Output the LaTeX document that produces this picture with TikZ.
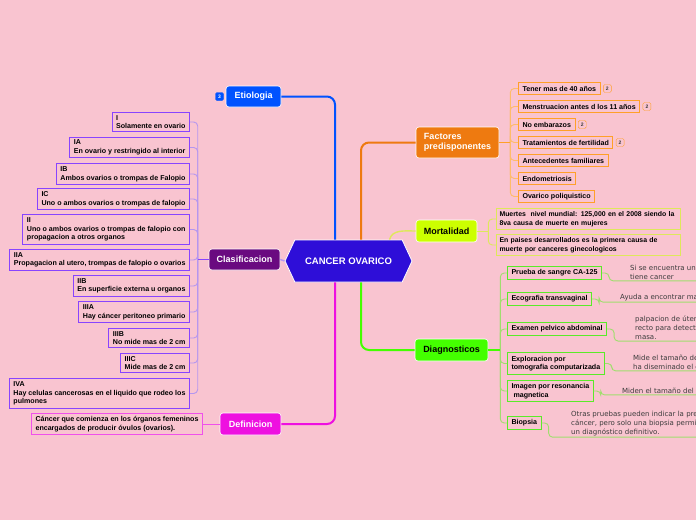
\documentclass[tikz,border=0pt]{standalone}
\usepackage{fontspec}
\setmainfont{Liberation Sans}
\newfontfamily\notefont{DejaVu Sans}
\definecolor{covpink}   {RGB}{249,196,208}
\definecolor{covindigo} {RGB}{46,14,216}
\definecolor{covblue}   {RGB}{0,82,255}
\definecolor{covorange} {RGB}{238,122,16}
\definecolor{covamber}  {RGB}{255,160,40}
\definecolor{covlime}   {RGB}{204,255,0}
\definecolor{covolive}  {RGB}{222,232,90}
\definecolor{covgreen}  {RGB}{68,255,0}
\definecolor{covleaf}   {RGB}{90,235,40}
\definecolor{covsage}   {RGB}{160,222,110}
\definecolor{covplum}   {RGB}{106,10,128}
\definecolor{covviolet} {RGB}{136,68,255}
\definecolor{covlilac}  {RGB}{180,150,240}
\definecolor{covmagenta}{RGB}{238,16,224}
\definecolor{covorchid} {RGB}{240,80,235}
\definecolor{covgray}   {RGB}{60,60,60}
\usepackage{tikz}
\usetikzlibrary{arrows.meta,positioning,shapes.symbols,calc}
\tikzset{
  hub/.style={signal,signal to=east and west,signal pointer angle=130,
              fill=covindigo,draw=white,line width=0.8pt,text=white,
              minimum width=127pt,minimum height=42pt,
              font=\fontsize{9.5}{11}\selectfont\bfseries},
  topic/.style={rectangle,rounded corners=3pt,fill=#1,draw=white,
                line width=0.6pt,text=white,align=left,inner xsep=5pt,
                font=\fontsize{9}{10.5}\selectfont\bfseries},
  topic/.default=covblue,
  subbox/.style={rectangle,draw=#1,line width=1pt,fill=covpink,
                 text=black,align=left,inner xsep=4pt,inner ysep=3pt,
                 font=\fontsize{7.1}{8.6}\selectfont\bfseries},
  subbox/.default=covviolet,
  notetext/.style={anchor=north west,inner sep=1pt,align=left,
                   text=covgray,font=\notefont\fontsize{7}{9}\selectfont},
  badge/.style={rectangle,rounded corners=1.5pt,draw=#1,fill=covpink,
                text=covgray,minimum size=8pt,inner sep=0.5pt,
                font=\fontsize{5}{5}\selectfont\bfseries},
  branch/.style={line width=2pt,rounded corners=8pt,#1},
  brk/.style={line width=0.9pt,rounded corners=4pt,#1},
}
\begin{document}
\begin{tikzpicture}[x=1pt,y=-1pt]
  \useasboundingbox (0,0) rectangle (696,520);
  \fill[covpink] (0,0) rectangle (696,520);
  \clip (0,0) rectangle (696,520);
  \coordinate (edge) at (700,0);

  % centre and main topics
  \node[hub] (hub) at (348.5,261) {CANCER OVARICO};
  \node[topic=covblue,minimum width=55pt,minimum height=21pt]
       (etio) at (253.5,96.5) {Etiologia};
  \node[badge=covblue,fill=covblue,text=white,anchor=east]
       (etiob) at ([xshift=-2pt]etio.west) {3};
  \node[topic=covorange,minimum width=83pt,minimum height=31pt]
       (fact) at (457.5,142.5) {Factores\\predisponentes};
  \node[topic=covlime,text=black,minimum width=61pt,minimum height=22pt]
       (mort) at (446.5,231) {Mortalidad};
  \node[topic=covgreen,text=black,minimum width=73pt,minimum height=22pt]
       (diag) at (451.5,350) {Diagnosticos};
  \node[topic=covplum,minimum width=71pt,minimum height=21pt]
       (clas) at (244.5,259.5) {Clasificacion};
  \node[topic=covmagenta,minimum width=61pt,minimum height=22pt]
       (defi) at (250.5,424) {Definicion};

  \draw[branch=covblue] ([xshift=-13.5pt]hub.north) |- (etio.east);
  \draw[branch=covorange] ([xshift=12.5pt]hub.north) |- (fact.west);
  \draw[branch=covolive,line width=1.4pt]
       ([xshift=41pt]hub.north) to[out=75,in=180] (mort.west);
  \draw[branch=covgreen] ([xshift=12.5pt]hub.south) |- (diag.west);
  \draw[branch=covmagenta] ([xshift=-13.5pt]hub.south) |- (defi.east);
  \draw[brk=covlilac,line width=1.4pt] (hub.west) -- (clas.east);

  % stages
  \foreach \nm/\y/\lab in {
    st1/122/{I\\Solamente en ovario},
    st2/147.5/{IA\\En ovario y restringido al interior},
    st3/174/{IB\\Ambos ovarios o trompas de Falopio},
    st4/199/{IC\\Uno o ambos ovarios o trompas de falopio},
    st5/229.5/{II\\Uno o ambos ovarios o trompas de falopio con\\propagacion a otros organos},
    st6/260/{IIA\\Propagacion al utero, trompas de falopio o ovarios},
    st7/286/{IIB\\En superficie externa u organos},
    st8/312/{IIIA\\Hay cáncer peritoneo primario},
    st9/338/{IIIB\\No mide mas de 2 cm},
    st10/363/{IIIC\\Mide mas de 2 cm},
    st11/393.5/{IVA\\Hay celulas cancerosas en el liquido que rodeo los\\pulmones}}{
    \node[subbox,anchor=east] (\nm) at (190,\y) {\lab};
  }
  \coordinate (clasjoin) at ($(clas.west)+(-11pt,0)$);
  \foreach \nm in {st1,st2,st3,st4,st5,st6,st7,st8,st9,st10,st11}
    \draw[brk=covlilac] (\nm.east) -| (clasjoin);
  \draw[brk=covviolet,line width=1.6pt] (clas.west) -- (clasjoin);

  % definition
  \node[subbox=covorchid,anchor=east] (deftxt) at (203,424)
       {Cáncer que comienza en los órganos femeninos\\encargados de producir óvulos (ovarios).};
  \draw[brk=covorchid] (deftxt.east) -- (defi.west);

  % risk factors
  \foreach \nm/\y/\lab in {
    rf1/88.5/{Tener mas de 40 años},
    rf2/106.5/{Menstruacion antes d los 11 años},
    rf3/124.5/{No embarazos},
    rf4/142.5/{Tratamientos de fertilidad},
    rf5/160.5/{Antecedentes familiares},
    rf6/178.5/{Endometriosis},
    rf7/196.5/{Ovarico poliquistico}}{
    \node[subbox=covamber,anchor=west] (\nm) at (518,\y) {\lab};
  }
  \foreach \nm in {rf1,rf2,rf3,rf4}
    \node[badge=covamber,anchor=west] (\nm b) at ([xshift=2.5pt]\nm.east) {2};
  \coordinate (factjoin) at ($(fact.east)+(11pt,0)$);
  \foreach \nm in {rf1,rf2,rf3,rf4,rf5,rf6,rf7}
    \draw[brk=covamber!70] (\nm.west) -| (factjoin);
  \draw[brk=covamber,line width=1.4pt] (fact.east) -- (factjoin);

  % mortality
  \node[subbox=covolive,anchor=west,text width=178pt,inner xsep=3pt,
        font=\fontsize{6.9}{8.6}\selectfont\bfseries] (mo1) at (496,219)
       {Muertes~ nivel mundial: 125,000 en el 2008 siendo la\\8va causa de muerte en mujeres};
  \node[subbox=covolive,anchor=west,text width=178pt,inner xsep=3pt,
        font=\fontsize{6.9}{8.6}\selectfont\bfseries] (mo2) at (496,245)
       {En paises desarrollados es la primera causa de\\muerte por canceres ginecologicos};
  \coordinate (mortjoin) at ($(mort.east)+(11pt,0)$);
  \foreach \nm in {mo1,mo2}
    \draw[brk=covolive] (\nm.west) -| (mortjoin);
  \draw[brk=covolive] (mort.east) -- (mortjoin);

  % diagnosis
  \foreach \nm/\y/\lab in {
    dg1/273/{Prueba de sangre CA-125},
    dg2/299/{Ecografia transvaginal},
    dg3/329/{Examen pelvico abdominal},
    dg4/363.5/{Exploracion por\\tomografia computarizada},
    dg5/391/{Imagen por resonancia\\\hspace{2pt}magnetica},
    dg6/423/{Biopsia}}{
    \node[subbox=covleaf,anchor=west] (\nm) at (507,\y) {\lab};
  }
  \coordinate (diagjoin) at ($(diag.east)+(12pt,0)$);
  \foreach \nm in {dg1,dg2,dg3,dg4,dg5,dg6}
    \draw[brk=covsage] (\nm.west) -| (diagjoin);
  \draw[brk=covgreen,line width=1.6pt] (diag.east) -- (diagjoin);

  \foreach \nm/\x/\y/\txt in {
    dg1/629/264/{Si se encuentra un\\tiene cancer},
    dg2/619/293/{Ayuda a encontrar masas},
    dg3/634/315/{palpacion de útero\\recto para detectar\\masa.},
    dg4/632/354/{Mide el tamaño del\\ha diseminado el cáncer},
    dg5/621/387/{Miden el tamaño del tumor},
    dg6/570/410/{Otras pruebas pueden indicar la presencia\\cáncer, pero solo una biopsia permite\\un diagnóstico definitivo.}}{
    \node[notetext] (\nm n) at (\x,\y) {\txt};
    \draw[brk=covsage] (\nm.east) -- ++(7pt,0) |- (\nm n.south west)
         -- (\nm n.south west -| edge);
  }
\end{tikzpicture}
\end{document}
